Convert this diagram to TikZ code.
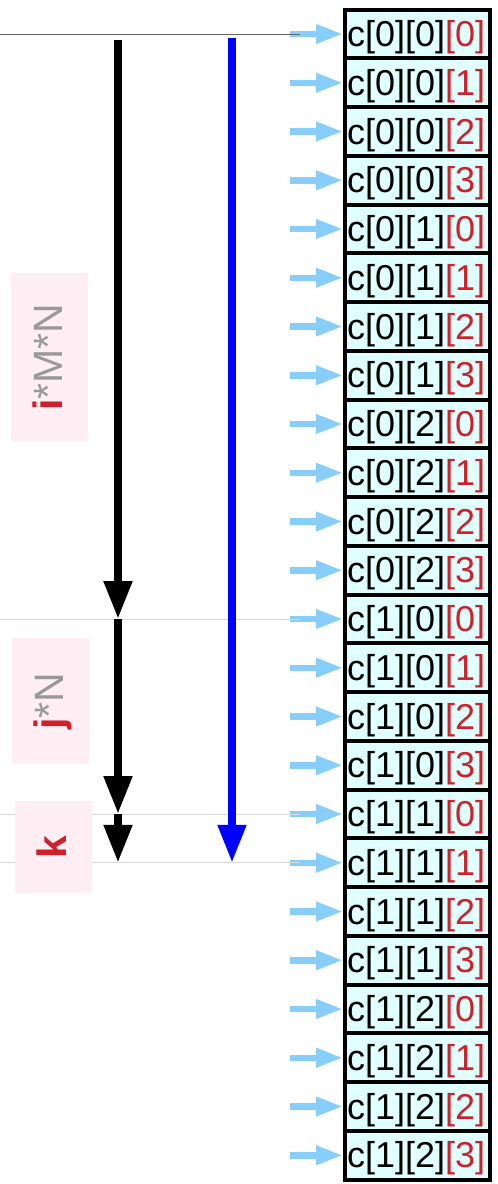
\documentclass[tikz,border=0pt]{standalone}
\usepackage{fontspec}
\setmainfont{Liberation Sans}
\usetikzlibrary{arrows.meta,calc,positioning}
\definecolor{cellcyan}{HTML}{E0FFFF}
\definecolor{feedblue}{HTML}{87CEFA}
\definecolor{idxred}{HTML}{D0202A}
\definecolor{tagpink}{HTML}{FFEEF3}
\definecolor{tagtext}{HTML}{999999}
\definecolor{guidegray}{HTML}{D9D9D9}
\definecolor{rulegray}{HTML}{666666}

\begin{document}
\begin{tikzpicture}[x=1pt,y=-1pt,>=Latex,
  cell/.style={draw,line width=4pt,fill=cellcyan,minimum width=145pt,minimum height=48.75pt,inner sep=0pt,text width=141pt,align=left,text height=30pt,text depth=5pt,font=\fontsize{36}{40}\selectfont},
  feed/.style={feedblue,line width=6.5pt,-{Triangle[length=27pt,width=18pt]}},
  guide/.style={guidegray,line width=1pt},
  tag/.style={fill=tagpink,rotate=90,minimum height=77pt,inner sep=0pt,text=tagtext,text height=30pt,text depth=4pt,font=\fontsize{41}{45}\selectfont},
  stride/.style={line width=8pt,-{Triangle[length=38pt,width=27pt]}}]
  \useasboundingbox (0,0) rectangle (498,1184);
  \coordinate (edge) at (0,0);
  \foreach \i in {0,1} \foreach \j in {0,1,2} \foreach \k in {0,...,3} {
    \pgfmathtruncatemacro\n{12*\i+4*\j+\k}
    \node[cell] (c\n) at (417.5,{34+48.75*\n}) {c[\i][\j]\textcolor{idxred}{[\k]}};
    \draw[feed] ([xshift=-53pt]c\n.west) -- (c\n.west);
  }
  \draw[rulegray,line width=1pt] (c0.west -| edge) -- ([xshift=-43pt]c0.west);
  \foreach \n in {12,16,17} \draw[guide] (c\n.west -| edge) -- ([xshift=-43pt]c\n.west);
  \node[tag,minimum width=168pt] (itag) at (49.5,357) {\textcolor{idxred}{\textbf{i}}*M*N};
  \node[tag,minimum width=126pt] (jtag) at (50.5,701) {\textcolor{idxred}{\textbf{j}}*N};
  \node[tag,minimum width=92pt] (ktag) at (53,847) {\textcolor{idxred}{\textbf{k}}};
  \coordinate (run) at (118,40);
  \coordinate (flat) at (232,38);
  \draw[stride] (run) -- (run |- c12.center);
  \draw[stride] (run |- c12.center) -- (run |- c16.center);
  \draw[stride] (run |- c16.center) -- (run |- c17.center);
  \draw[stride,blue] (flat) -- (flat |- c17.center);
\end{tikzpicture}
\end{document}
